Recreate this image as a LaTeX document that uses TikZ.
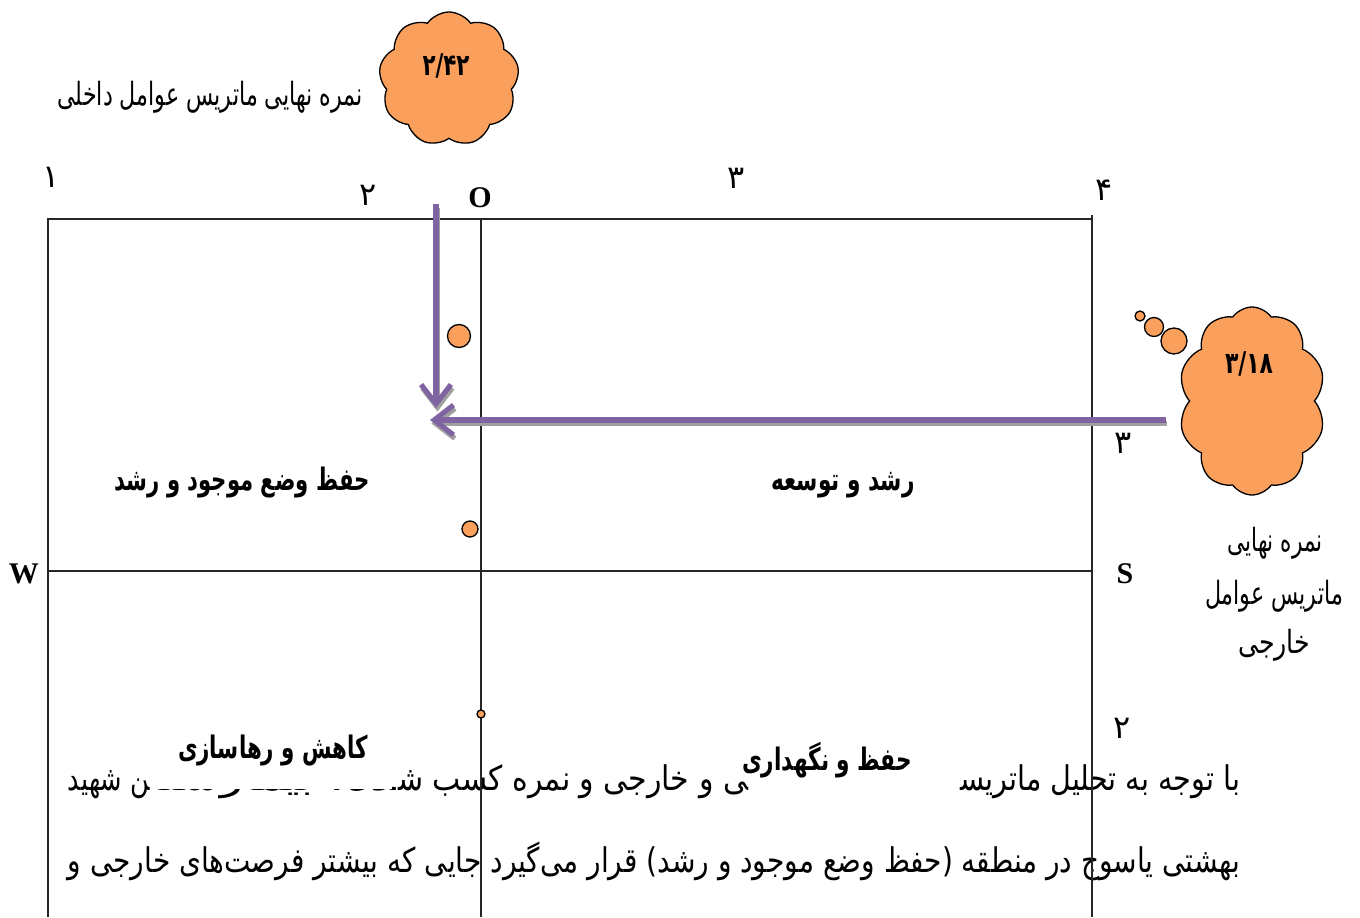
\documentclass[tikz,border=0pt]{standalone}
\usepackage{fontspec}
\usepackage{graphicx}
\usetikzlibrary{shapes.symbols,arrows.meta}
\TeXXeTstate=1
\newfontfamily\arabicfont[Script=Arabic]{DejaVu Sans}
\newfontfamily\latinserif{Liberation Serif}
\newlength{\px}\setlength{\px}{0.02cm}
\newcommand{\fsz}[1]{\fontsize{#1\px}{#1\px}\selectfont}
\newcommand{\fa}[1]{\arabicfont\fsz{#1}}
\newcommand{\fab}[1]{\arabicfont\bfseries\fsz{#1}}
\newcommand{\fitw}[2]{\resizebox{#1\px}{\height}{#2}}
\definecolor{cloudorange}{RGB}{250,160,92}
\definecolor{arrowpurple}{RGB}{128,100,162}
\definecolor{shadowgray}{RGB}{160,160,160}
\tikzset{
  txt/.style={inner sep=0pt, outer sep=0pt},
  frame/.style={draw=black!85, line width=0.8pt},
  puff/.style={cloud, draw=black, fill=cloudorange, line width=0.75pt, cloud ignores aspect},
  bubble/.style={circle, draw=black, fill=cloudorange, line width=0.75pt, inner sep=0pt},
  scorearrow/.style={draw=arrowpurple, line width=2.9pt, -{Straight Barb[length=11pt,width=17pt]}},
  arrowshade/.style={draw=shadowgray, line width=2.9pt, -{Straight Barb[length=11pt,width=17pt]}, transform canvas={xshift=0.8pt,yshift=-2pt}},
}
\begin{document}
\begin{tikzpicture}[x=0.02cm,y=-0.02cm]
\useasboundingbox (0,0) rectangle (1360,917);

% ---- paragraph text (lies under the frame) ----
\node[txt, anchor=base east] (p1a) at (1240,790) {\fitw{280}{\fa{34}\beginR با توجه به تحلیل ماتریس‍\endR}};
\node[txt, anchor=base east] (p1b) at (748,790) {\fitw{350}{\fa{34}\beginR ‍ی و خارجی و نمره کسب ش‍\endR}};
\node[txt, anchor=base east] (p1c) at (396,790) {\fitw{246}{\fa{34}\beginR ‍ده، بیمارستا‍\endR}};
\node[txt, anchor=base east] (p1d) at (150,790) {\fitw{82}{\fa{34}\beginR ‍ن شهید\endR}};
\node[txt, anchor=base east] (p2) at (1240,872) {\fitw{1172}{\fa{34}\beginR بهشتی یاسوج در منطقه (حفظ وضع موجود و رشد) قرار می‌گیرد جایی که بیشتر فرصت‌های خارجی و\endR}};

% white box of the label that hides part of the text
\node[txt, fill=white, minimum width=240\px, minimum height=66\px] (kbox) at (272,756) {};

% ---- frame ----
\coordinate (TL) at (48,219);
\coordinate (TR) at (1092,219);
\coordinate (TRt) at (1092,215);
\coordinate (TM) at (481,219);
\coordinate (BL) at (48,917);
\coordinate (BM) at (481,917);
\coordinate (BR) at (1092,917);
\coordinate (ML) at (48,571);
\coordinate (MR) at (1092,571);
\draw[frame] (BL) -- (TL) -- (TR);
\draw[frame] (TRt) -- (BR);
\draw[frame] (TM) -- (BM);
\draw[frame] (ML) -- (MR);

% ---- axis labels ----
\node[txt, anchor=base] (n1) at (51,187) {\fa{32}۱};
\node[txt, anchor=base] (n2) at (368,205) {\fa{32}۲};
\node[txt, anchor=base] (nO) at (480,207) {\latinserif\bfseries\fsz{30}O};
\node[txt, anchor=base] (n3) at (736,188) {\fa{32}۳};
\node[txt, anchor=base] (n4) at (1104,200) {\fa{32}۴};
\node[txt, anchor=base] (r3) at (1123,453) {\fa{32}۳};
\node[txt, anchor=base] (r2) at (1122,738) {\fa{32}۲};
\node[txt, anchor=base] (nW) at (24,583) {\latinserif\bfseries\fsz{30}W};
\node[txt, anchor=base] (nS) at (1125,583) {\latinserif\bfseries\fsz{30}S};

% ---- quadrant labels ----
\node[txt, anchor=base] (q1) at (242,490) {\fitw{255}{\fab{31}\beginR حفظ وضع موجود و رشد\endR}};
\node[txt, anchor=base] (q2) at (843,490) {\fitw{143}{\fab{31}\beginR رشد و توسعه\endR}};
\node[txt, anchor=base] (q3) at (273,758) {\fitw{190}{\fab{31}\beginR کاهش و رهاسازی\endR}};
\node[txt, anchor=base] (q4) at (827,770) {\fitw{170}{\fab{31}\beginR حفظ و نگهداری\endR}};

% ---- points ----
\node[bubble, minimum size=23\px] (d1) at (459,336) {};
\node[bubble, minimum size=16\px] (d2) at (470,529) {};
\node[bubble, minimum size=8\px] (d3) at (481,714) {};

% ---- internal factors cloud ----
\node[puff, cloud puffs=9, cloud puff arc=110, minimum width=140\px, minimum height=134\px] (c1) at (449,79) {};
\node[txt, anchor=base] (c1t) at (446,75) {\fitw{47}{\fab{30}۲/۴۲}};
\node[txt, anchor=base] (l1) at (210,105) {\fitw{305}{\fa{32}\beginR نمره نهایی ماتریس عوامل داخلی\endR}};

% ---- external factors cloud ----
\node[puff, cloud puffs=10, cloud puff arc=110, minimum width=147\px, minimum height=188\px] (c2) at (1252,401) {};
\node[bubble, minimum size=10\px] (b1) at (1140,316) {};
\node[bubble, minimum size=19\px] (b2) at (1154,327) {};
\node[bubble, minimum size=26\px] (b3) at (1174,341) {};
\node[txt, anchor=base] (c2t) at (1249,373) {\fitw{48}{\fab{30}۳/۱۸}};
\node[txt, anchor=base] (l2a) at (1275,551) {\fitw{95}{\fa{32}\beginR نمره نهایی\endR}};
\node[txt, anchor=base] (l2b) at (1274,604) {\fitw{138}{\fa{32}\beginR ماتریس عوامل\endR}};
\node[txt, anchor=base] (l2c) at (1274,653) {\fitw{72}{\fa{32}خارجی}};

% ---- arrows ----
\coordinate (vs) at (436,204);
\coordinate (ve) at (436,408);
\coordinate (hs) at (1166,420);
\coordinate (he) at (430,420);
\draw[arrowshade] (vs) -- (ve);
\draw[arrowshade] (hs) -- (he);
\draw[scorearrow] (vs) -- (ve);
\draw[scorearrow] (hs) -- (he);
\end{tikzpicture}
\end{document}
